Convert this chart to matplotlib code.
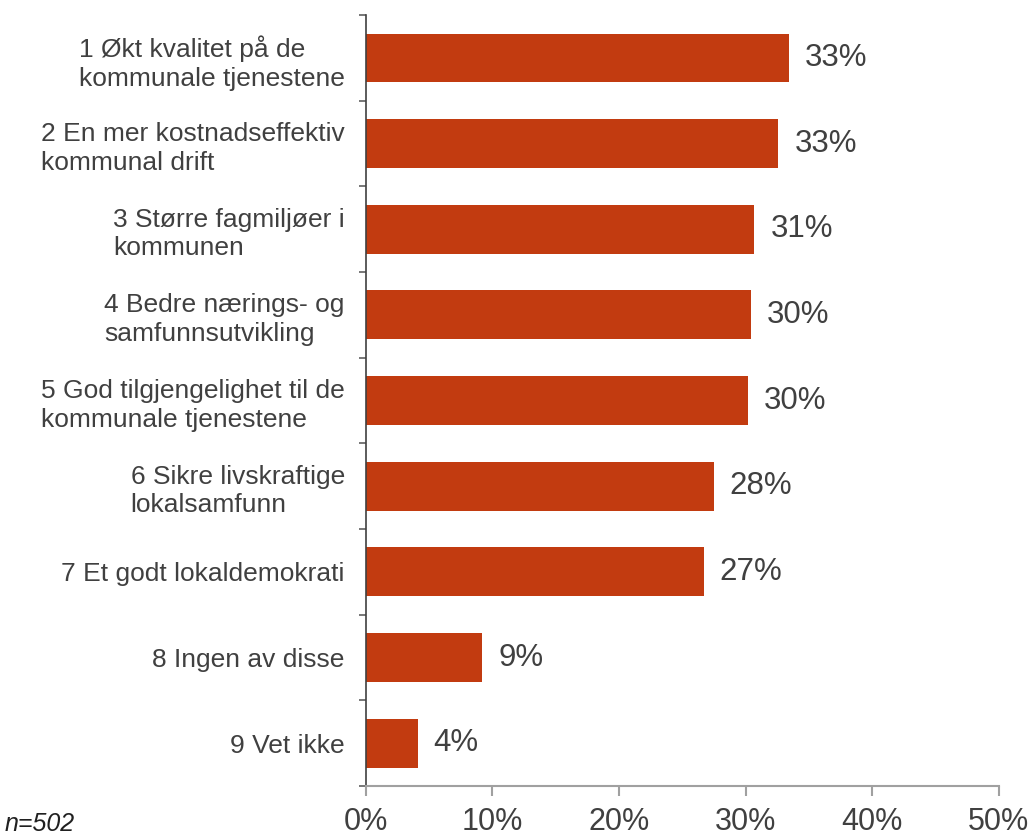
import matplotlib.pyplot as plt
import numpy as np

plt.rcParams['font.family'] = ['Liberation Sans', 'DejaVu Sans']

# Data
categories = [
    '1 Økt kvalitet på de\nkommunale tjenestene',
    '2 En mer kostnadseffektiv\nkommunal drift',
    '3 Større fagmiljøer i\nkommunen',
    '4 Bedre nærings- og\nsamfunnsutvikling',
    '5 God tilgjengelighet til de\nkommunale tjenestene',
    '6 Sikre livskraftige\nlokalsamfunn',
    '7 Et godt lokaldemokrati',
    '8 Ingen av disse',
    '9 Vet ikke',
]
values = [33.4, 32.6, 30.7, 30.4, 30.2, 27.5, 26.7, 9.2, 4.1]
value_labels = ['33%', '33%', '31%', '30%', '30%', '28%', '27%', '9%', '4%']
x_ticks = [0, 10, 20, 30, 40, 50]
x_ticklabels = ['0%', '10%', '20%', '30%', '40%', '50%']

bar_color = '#C23B10'
text_color = '#404040'

fig = plt.figure(figsize=(10.35, 8.38), dpi=100)
ax = fig.add_axes([0.3533, 0.062, 0.6117, 0.920])

y = np.arange(len(categories))
ax.barh(y, values, height=0.57, color=bar_color)

# value labels next to bars
for yi, v, lab in zip(y, values, value_labels):
    ax.annotate(lab, (v, yi), xytext=(11.5, 0), textcoords='offset points',
                va='center', ha='left', fontsize=22.5, color=text_color)

ax.set_xlim(0, 50)
ax.set_ylim(len(categories) - 0.5, -0.5)

# x axis
ax.set_xticks(x_ticks)
ax.set_xticklabels(x_ticklabels, fontsize=22, color=text_color)
ax.tick_params(axis='x', length=7, width=1.5, color='#a0a0a0', pad=8)

# y axis: labels at centres, tick marks at category boundaries
ax.set_yticks(y)
ax.set_yticklabels(categories, fontsize=19, color=text_color, linespacing=1.25)
for t in ax.get_yticklabels():
    t.set_multialignment('left')
ax.set_yticks(np.arange(len(categories) + 1) - 0.5, minor=True)
ax.tick_params(axis='y', which='major', length=0, pad=15)
ax.tick_params(axis='y', which='minor', length=5, width=1.2, color='#606060')

ax.spines['top'].set_visible(False)
ax.spines['right'].set_visible(False)
ax.spines['left'].set_color('#404040')
ax.spines['left'].set_linewidth(1.2)
ax.spines['bottom'].set_color('#a0a0a0')
ax.spines['bottom'].set_linewidth(1.5)

fig.text(0.004, 0.002, 'n=502', fontsize=18, style='italic', color='#202020',
         ha='left', va='bottom')

fig.savefig('out.png', dpi=100)
